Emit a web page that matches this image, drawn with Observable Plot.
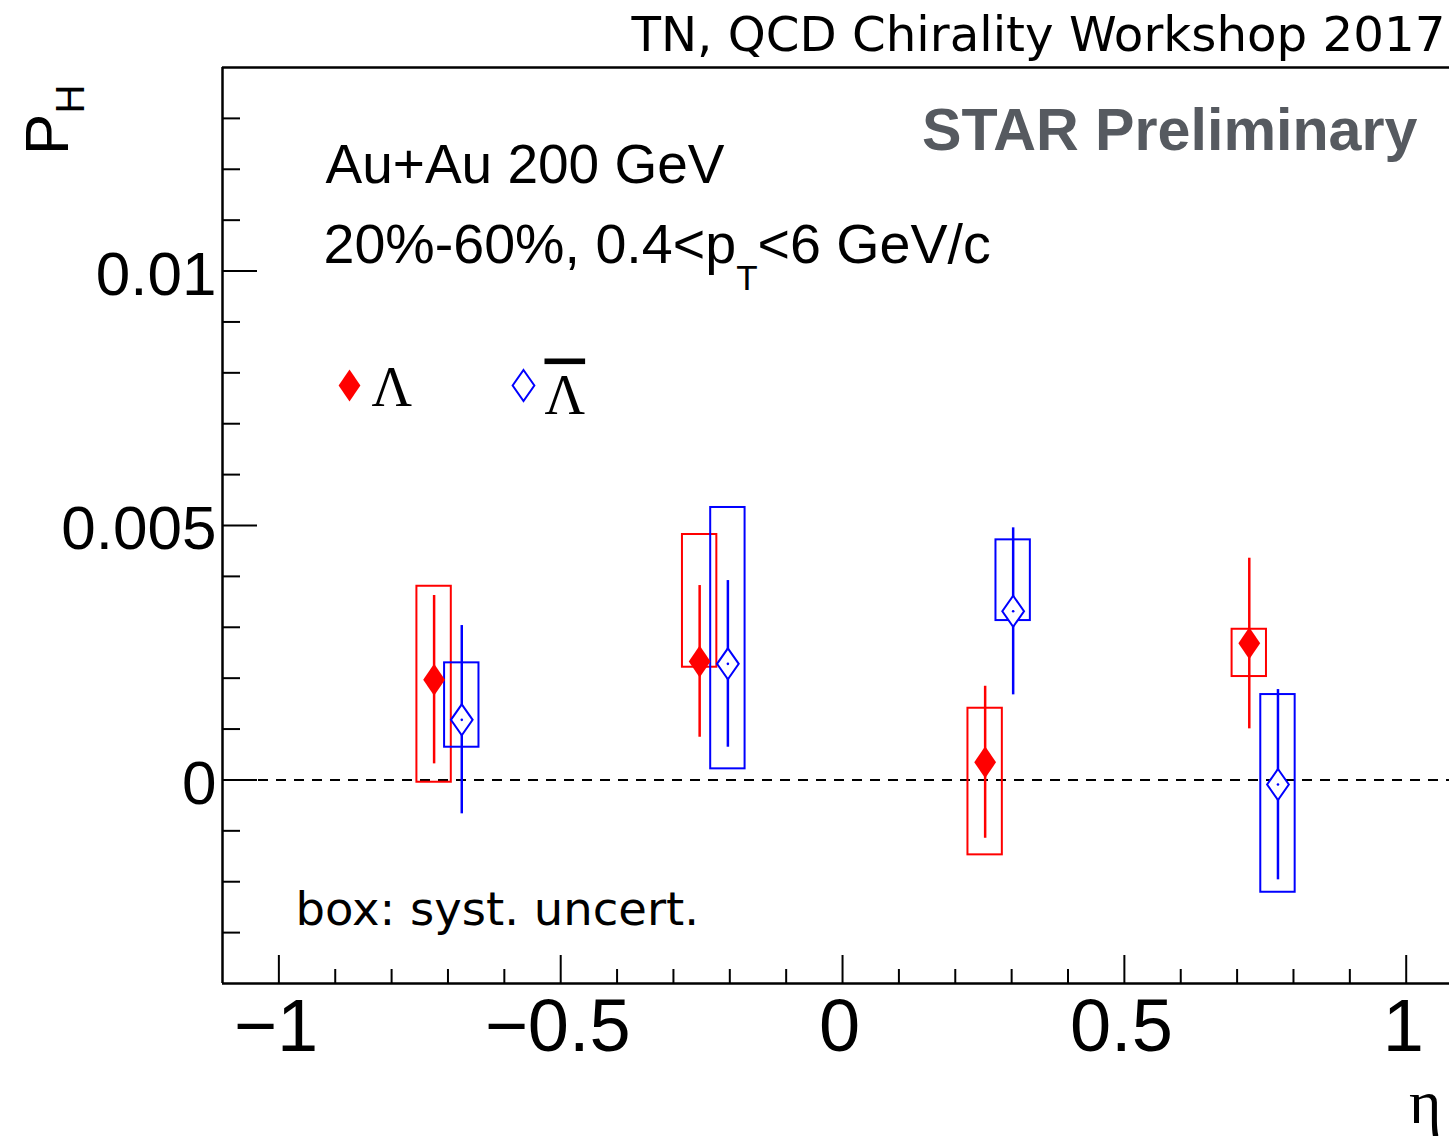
<!DOCTYPE html>
<html><head><meta charset="utf-8">
<script src="https://cdn.jsdelivr.net/npm/d3@7"></script>
<script src="https://cdn.jsdelivr.net/npm/@observablehq/plot@0.6"></script>
<style>body{margin:0;background:#fff}</style>
</head><body><div id="chart"></div>
<script>
// ---- data: Lambda ----
const lambdaEta    = [-0.7246, -0.2535, 0.2530, 0.7216];
const lambdaP      = [0.001967, 0.002327, 0.000348, 0.002686];
const lambdaStatLo = [0.000316, 0.000839, -0.001146, 0.001004];
const lambdaStatHi = [0.003624, 0.003820, 0.001841, 0.004357];
const lambdaSysLo  = [-0.000045, 0.002215, -0.001472, 0.002032];
const lambdaSysHi  = [0.003806, 0.004823, 0.001409, 0.002961];
// ---- data: anti-Lambda ----
const antiEta    = [-0.6755, -0.2034, 0.3027, 0.7725];
const antiP      = [0.001181, 0.002281, 0.003315, -0.000090];
const antiStatLo = [-0.000666, 0.000643, 0.001672, -0.001963];
const antiStatHi = [0.003034, 0.003918, 0.004954, 0.001776];
const antiSysLo  = [0.000643, 0.000218, 0.003132, -0.002207];
const antiSysHi  = [0.002301, 0.005354, 0.004718, 0.001678];
const boxHalfWidth = 0.0305;

// ---- axes ----
const xDomain = [-1.1, 1.0768];
const yDomain = [-0.004, 0.014];
const xMajor = [-1, -0.5, 0, 0.5, 1];
const xMajorLabels = ["\u22121", "\u22120.5", "0", "0.5", "1"];
const xMinor = [-0.9,-0.8,-0.7,-0.6,-0.4,-0.3,-0.2,-0.1,0.1,0.2,0.3,0.4,0.6,0.7,0.8,0.9];
const yMajor = [0, 0.005, 0.01];
const yMajorLabels = ["0", "0.005", "0.01"];
const yMinor = [-0.003,-0.002,-0.001,0.001,0.002,0.003,0.004,0.006,0.007,0.008,0.009,0.011,0.012,0.013];

// ---- texts ----
const yTitle = "P_{H}";
const xTitle = "\u03B7";
const topText = "TN, QCD Chirality Workshop 2017";
const starText = "STAR Preliminary";
const line1 = "Au+Au 200 GeV";
const line2 = "20%-60%, 0.4<p_{T}<6 GeV/c";
const boxText = "box: syst. uncert.";
const lambdaLabel = "\u039B";
const antiLabel = "\u039B\u0304";

const RED = "#ff0000", BLUE = "#0000ff";
const W = 1449, H = 1136, ML = 222, MR = 0, MT = 67, MB = 153;
const PW = W - ML - MR, PH = H - MT - MB;

const lambdaRows = lambdaEta.map((eta, i) => ({eta, p: lambdaP[i], sLo: lambdaStatLo[i], sHi: lambdaStatHi[i], yLo: lambdaSysLo[i], yHi: lambdaSysHi[i]}));
const antiRows = antiEta.map((eta, i) => ({eta, p: antiP[i], sLo: antiStatLo[i], sHi: antiStatHi[i], yLo: antiSysLo[i], yHi: antiSysHi[i]}));

const diamond = (ratio) => ({
  draw(ctx, size) {
    const r = Math.sqrt(size / Math.PI), w = r * ratio;
    ctx.moveTo(0, -r); ctx.lineTo(w, 0); ctx.lineTo(0, r); ctx.lineTo(-w, 0); ctx.closePath();
  }
});
const solidDiamond = diamond(0.68), openDiamond = diamond(0.70);

const sans = "Liberation Sans, Arial, Helvetica, sans-serif";
const wide = "DejaVu Sans, sans-serif";
const serif = "Liberation Serif, Times New Roman, serif";

const chart = Plot.plot({
  width: W, height: H,
  marginLeft: ML, marginRight: MR, marginTop: MT, marginBottom: MB,
  x: {domain: xDomain, axis: null},
  y: {domain: yDomain, axis: null},
  style: {fontFamily: sans, background: "#fff", overflow: "visible", color: "#000"},
  marks: [
    // zero line
    Plot.ruleY([0], {stroke: "#000", strokeWidth: 2, strokeDasharray: "10,8", insetLeft: 36}),
    // syst boxes
    Plot.rect(lambdaRows, {x1: d => d.eta - boxHalfWidth, x2: d => d.eta + boxHalfWidth, y1: "yLo", y2: "yHi", fill: "none", stroke: RED, strokeWidth: 2}),
    Plot.rect(antiRows, {x1: d => d.eta - boxHalfWidth, x2: d => d.eta + boxHalfWidth, y1: "yLo", y2: "yHi", fill: "none", stroke: BLUE, strokeWidth: 2}),
    // stat errors
    Plot.ruleX(lambdaRows, {x: "eta", y1: "sLo", y2: "sHi", stroke: RED, strokeWidth: 2.5}),
    Plot.ruleX(antiRows, {x: "eta", y1: "sLo", y2: "sHi", stroke: BLUE, strokeWidth: 2.5}),
    // markers
    Plot.dot(lambdaRows, {x: "eta", y: "p", symbol: solidDiamond, r: 16, fill: RED, stroke: "none"}),
    Plot.dot(antiRows, {x: "eta", y: "p", symbol: openDiamond, r: 15.5, fill: "#fff", stroke: BLUE, strokeWidth: 2}),
    Plot.dot(antiRows, {x: "eta", y: "p", r: 1.3, fill: BLUE, stroke: "none"}),
    // frame
    Plot.ruleX([xDomain[0]], {stroke: "#000", strokeWidth: 2.5}),
    Plot.ruleY([yDomain[0]], {stroke: "#000", strokeWidth: 2.5}),
    Plot.ruleY([yDomain[1]], {stroke: "#000", strokeWidth: 2.5}),
    // ticks
    Plot.tickY(yMajor, {y: d => d, stroke: "#000", strokeWidth: 2, insetRight: PW - 35}),
    Plot.tickY(yMinor, {y: d => d, stroke: "#000", strokeWidth: 2, insetRight: PW - 18}),
    Plot.tickX(xMajor, {x: d => d, stroke: "#000", strokeWidth: 2, insetTop: PH - 28}),
    Plot.tickX(xMinor, {x: d => d, stroke: "#000", strokeWidth: 2, insetTop: PH - 14}),
    // tick labels
    Plot.axisY({ticks: yMajor, tickSize: 0, tickPadding: 6, fontSize: 62, dy: 4, tickFormat: d => yMajorLabels[yMajor.indexOf(d)], label: null}),
    Plot.axisX({ticks: xMajor, tickSize: 0, tickPadding: 15, fontSize: 74, dx: -3, tickFormat: d => xMajorLabels[xMajor.indexOf(d)], label: null}),
    // axis titles
    Plot.text([yTitle], {text: d => d, frameAnchor: "top-left", rotate: -90, textAnchor: "end", lineAnchor: "bottom", dx: 67 - ML, dy: 84 - MT, fontSize: 62}),
    Plot.text([xTitle], {text: d => d, frameAnchor: "bottom-right", textAnchor: "end", lineAnchor: "bottom", dx: -8, dy: 1122 - (H - MB), fontSize: 62, fontFamily: serif}),
    // annotations
    Plot.text([topText], {text: d => d, frameAnchor: "top-right", textAnchor: "end", lineAnchor: "bottom", dx: -4, dy: 50 - MT, fontSize: 48.3, fontFamily: wide}),
    Plot.text([starText], {text: d => d, frameAnchor: "top-right", textAnchor: "end", lineAnchor: "bottom", dx: -32, dy: 149 - MT, fontSize: 59.2, fontWeight: "bold", fill: "#565a60"}),
    Plot.text([line1], {text: d => d, frameAnchor: "top-left", textAnchor: "start", lineAnchor: "bottom", dx: 325 - ML, dy: 182 - MT, fontSize: 55}),
    Plot.text([line2], {text: d => d, frameAnchor: "top-left", textAnchor: "start", lineAnchor: "bottom", dx: 323 - ML, dy: 262 - MT, fontSize: 55.6}),
    Plot.text([boxText], {text: d => d, frameAnchor: "top-left", textAnchor: "start", lineAnchor: "bottom", dx: 295 - ML, dy: 924 - MT, fontSize: 46.5, fontFamily: wide}),
    // legend
    Plot.dot([0], {frameAnchor: "top-left", dx: 349 - ML, dy: 385 - MT, symbol: solidDiamond, r: 16, fill: RED, stroke: "none"}),
    Plot.text([lambdaLabel], {text: d => d, frameAnchor: "top-left", textAnchor: "start", lineAnchor: "bottom", dx: 371 - ML, dy: 405 - MT, fontSize: 56, fontFamily: serif}),
    Plot.dot([0], {frameAnchor: "top-left", dx: 523 - ML, dy: 385 - MT, symbol: openDiamond, r: 15.5, fill: "#fff", stroke: BLUE, strokeWidth: 2}),
    Plot.text([antiLabel], {text: d => d, frameAnchor: "top-left", textAnchor: "start", lineAnchor: "bottom", dx: 544 - ML, dy: 413 - MT, fontSize: 56, fontFamily: serif})
  ]
});

// post-process: subscripts and overline
const NS = "http://www.w3.org/2000/svg";
function subscript(t, scale, shift) {
  const s = t.textContent;
  const parts = s.split(/(_\{[^}]*\})/).filter(p => p);
  t.textContent = "";
  let down = false;
  for (const p of parts) {
    const ts = document.createElementNS(NS, "tspan");
    if (p.startsWith("_{")) {
      ts.textContent = p.slice(2, -1);
      ts.setAttribute("font-size", (scale * 100) + "%");
      ts.setAttribute("dy", shift);
      down = true;
    } else {
      ts.textContent = p;
      if (down) { ts.setAttribute("dy", -shift); down = false; }
    }
    t.appendChild(ts);
  }
}
chart.querySelectorAll("text").forEach(t => {
  const s = t.textContent;
  if (s === yTitle) subscript(t, 0.65, 16);
  else if (s === line2) subscript(t, 0.63, 27);
  else if (s === antiLabel) {
    t.textContent = lambdaLabel;
    t.setAttribute("text-decoration", "overline");
    t.style.textDecorationThickness = "4px";
  }
});
document.getElementById("chart").appendChild(chart);
</script>
</body></html>
